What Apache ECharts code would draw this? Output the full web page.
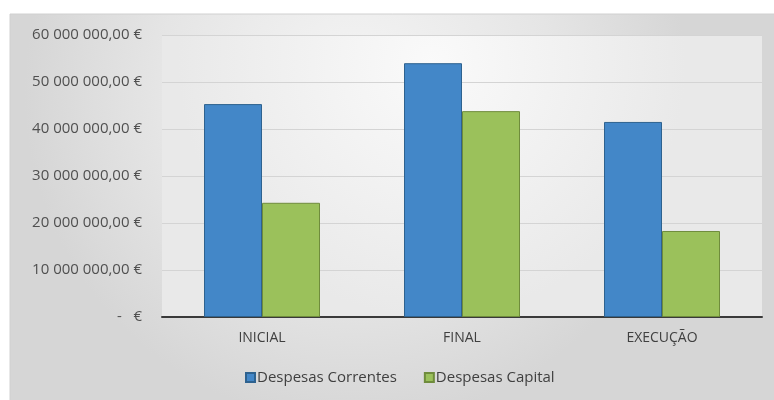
<!DOCTYPE html>
<html>
<head>
<meta charset="utf-8">
<script src="https://cdn.jsdelivr.net/npm/echarts@6/dist/echarts.min.js"></script>
<style>
  html, body { margin: 0; padding: 0; background: #ffffff; }
  #chart { width: 774px; height: 400px; }
</style>
</head>
<body>
<div id="chart"></div>
<script>
// Budget phases and spending by type (euros)
const categories = ['INICIAL', 'FINAL', 'EXECUÇÃO'];
const despesasCorrentes = [45300000, 54000000, 41500000];
const despesasCapital = [24300000, 43800000, 18300000];
const seriesNames = ['Despesas Correntes', 'Despesas Capital'];
const yMax = 60000000;
const yStep = 10000000;

function euro(v) {
  if (v === 0) return '-   €';
  const intPart = Math.round(v).toString().replace(/\B(?=(\d{3})+(?!\d))/g, ' ');
  return intPart + ',00 €';
}

const chart = echarts.init(document.getElementById('chart'));
const FONT = '"Open Sans", "Noto Sans", sans-serif';

chart.setOption({
  animation: false,
  backgroundColor: '#ffffff',
  graphic: [{
    type: 'rect',
    silent: true,
    z: -10,
    shape: { x: 10, y: 14, width: 770, height: 390 },
    style: {
      fill: {
        type: 'radial', x: 0.45, y: 0.2, r: 0.85,
        colorStops: [
          { offset: 0, color: '#f5f5f5' },
          { offset: 0.6, color: '#e5e5e5' },
          { offset: 1, color: '#d6d6d6' }
        ]
      },
      stroke: '#d0d0d0',
      lineWidth: 1
    }
  }],
  grid: {
    left: 162, right: 12, top: 35, bottom: 83,
    show: true,
    borderWidth: 0,
    backgroundColor: {
      type: 'radial', x: 0.45, y: 0.1, r: 0.9,
      colorStops: [
        { offset: 0, color: '#fafafa' },
        { offset: 1, color: '#e9e9e9' }
      ]
    }
  },
  legend: {
    data: seriesNames,
    bottom: 10,
    left: 240,
    itemWidth: 9,
    itemHeight: 9,
    itemGap: 27,
    icon: 'rect',
    textStyle: { fontFamily: FONT, fontSize: 15, color: '#404040', padding: [0, 0, 0, -3] }
  },
  xAxis: {
    type: 'category',
    data: categories,
    axisTick: { show: false },
    axisLine: { lineStyle: { color: '#3a3a3a', width: 2 } },
    axisLabel: { fontFamily: FONT, fontSize: 14, color: '#404040', margin: 14 }
  },
  yAxis: {
    type: 'value',
    min: 0,
    max: yMax,
    interval: yStep,
    axisLine: { show: false },
    axisTick: { show: false },
    splitLine: { lineStyle: { color: '#d4d4d4', width: 1 } },
    axisLabel: {
      fontFamily: FONT, fontSize: 15, color: '#505050', margin: 20,
      formatter: euro
    }
  },
  series: [
    {
      name: seriesNames[0],
      type: 'bar',
      data: despesasCorrentes,
      barGap: '0%',
      barCategoryGap: '42%',
      itemStyle: { color: '#4387c8', borderColor: '#2e628f', borderWidth: 1 }
    },
    {
      name: seriesNames[1],
      type: 'bar',
      data: despesasCapital,
      itemStyle: { color: '#9bc15b', borderColor: '#6f8c3c', borderWidth: 1 }
    }
  ]
});
</script>
</body>
</html>
